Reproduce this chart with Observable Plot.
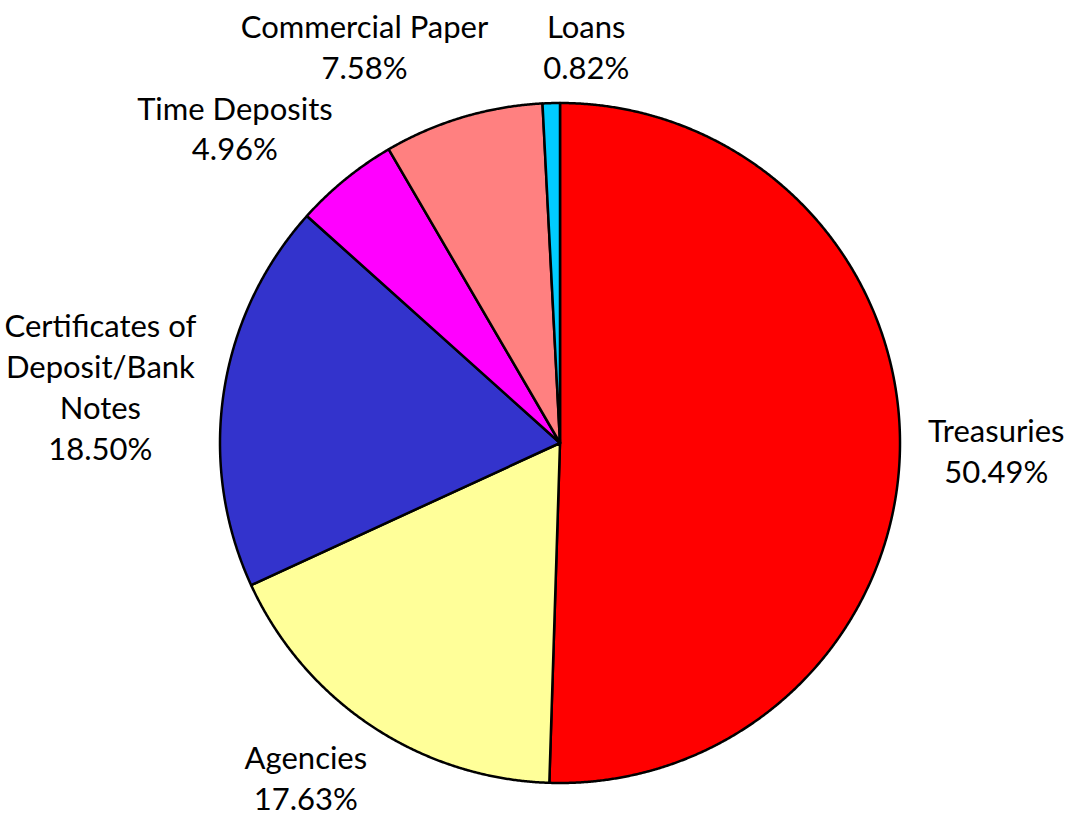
<!DOCTYPE html>
<html><head><meta charset="utf-8">
<script src="https://cdn.jsdelivr.net/npm/d3@7"></script>
<script src="https://cdn.jsdelivr.net/npm/@observablehq/plot@0.6"></script>
<style>html,body{margin:0;padding:0;background:#fff;overflow:hidden}</style>
</head><body><div id="chart"></div>
<script>
// Data
const categories = ["Treasuries", "Agencies", "Certificates of\nDeposit/Bank\nNotes", "Time Deposits", "Commercial Paper", "Loans"];
const shares = [50.49, 17.63, 18.50, 4.96, 7.58, 0.82];
const colors = ["#FF0000", "#FFFF99", "#3333CC", "#FF00FF", "#FF8080", "#00CCFF"];

// Layout
const W = 1073, H = 820;
const CX = 559.5, CY = 442.5, R = 340;
const FONT = "Lato, 'Open Sans', sans-serif";
const FS = 31, LH = 41;

const arcs = d3.pie().sort(null).value(d => d)(shares);

// slice outlines in radius units (center 0,0, radius 1, y up)
const pts = [];
arcs.forEach((a, i) => {
  const cat = categories[i];
  pts.push({cat, x: 0, y: 0});
  const n = Math.max(2, Math.ceil((a.endAngle - a.startAngle) / 0.004));
  for (let k = 0; k <= n; k++) {
    const t = a.startAngle + (a.endAngle - a.startAngle) * k / n;
    pts.push({cat, x: Math.sin(t), y: Math.cos(t)});
  }
  pts.push({cat, x: 0, y: 0});
});

// label placement (pixel space, then converted to radius units)
const ctx = document.createElement("canvas").getContext("2d");
ctx.font = `${FS}px Lato`;
const clamp = v => Math.max(-1, Math.min(1, v));
const gapX = 28, gapY = 36;
const labels = arcs.map((a, i) => {
  const text = categories[i] + "\n" + shares[i].toFixed(2) + "%";
  const lines = text.split("\n");
  const w = Math.max(...lines.map(l => ctx.measureText(l).width));
  const h = lines.length * LH;
  const m = (a.startAngle + a.endAngle) / 2;
  const ux = Math.sin(m), uy = -Math.cos(m);
  const px = CX + (R + gapX) * ux, py = CY + (R + gapY) * uy;
  let cx = px + clamp(1.5 * ux) * w / 2;
  let cy = py + uy * Math.abs(uy) * h / 2;
  return {text, w, h, cx, cy};
});
// resolve overlaps by pushing neighbouring labels apart horizontally
const pad = 55;
for (let i = 0; i < labels.length; i++) for (let j = 0; j < labels.length; j++) {
  if (i === j) continue;
  const A = labels[i], B = labels[j];
  if (A.cx > B.cx) continue;
  const ox = (A.cx + A.w / 2 + pad) - (B.cx - B.w / 2);
  const oy = Math.min(A.cy + A.h / 2, B.cy + B.h / 2) - Math.max(A.cy - A.h / 2, B.cy - B.h / 2);
  if (ox > 0 && oy > 12) { A.cx -= ox / 2; B.cx += ox / 2; }
}
labels.forEach(l => {
  l.cx = Math.max(4 + l.w / 2, Math.min(W - 4 - l.w / 2, l.cx));
  l.cy = Math.max(4 + l.h / 2, Math.min(H - 3 - l.h / 2, l.cy));
  l.x = (l.cx - CX) / R; l.y = (CY - l.cy) / R;
});

const chart = Plot.plot({
  width: W, height: H,
  margin: 0,
  style: {background: "#fff"},
  x: {domain: [-CX / R, (W - CX) / R], range: [0, W], axis: null},
  y: {domain: [-(H - CY) / R, CY / R], range: [H, 0], axis: null},
  color: {domain: categories, range: colors},
  marks: [
    Plot.line(pts, {x: "x", y: "y", z: "cat", fill: "cat", stroke: "#000", strokeWidth: 2.5, strokeLinejoin: "round", curve: "linear"}),
    Plot.text(labels, {x: "x", y: "y", text: "text", fontSize: FS, fontFamily: FONT, lineHeight: LH / FS, fill: "#000", textAnchor: "middle"})
  ]
});
document.getElementById("chart").appendChild(chart);
</script>
</body></html>
